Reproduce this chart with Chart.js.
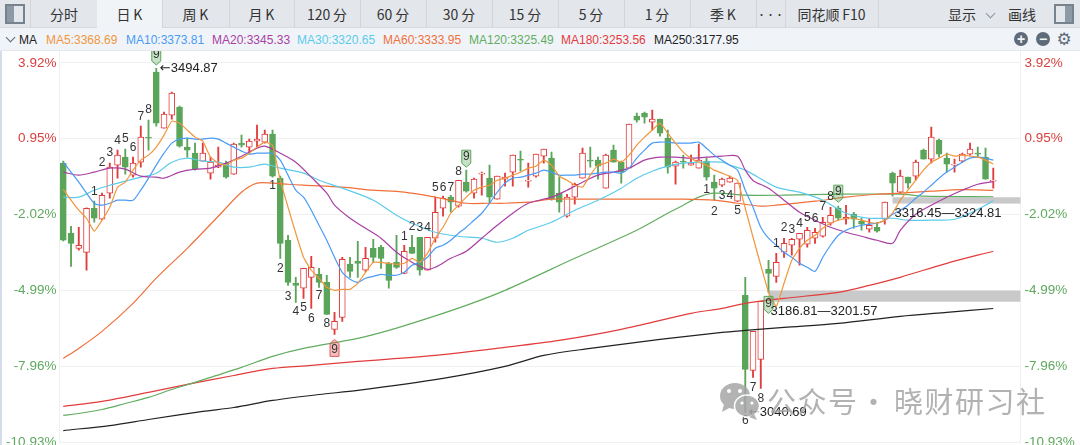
<!DOCTYPE html>
<html lang="zh"><head><meta charset="utf-8">
<script src="https://cdn.jsdelivr.net/npm/chart.js@4/dist/chart.umd.min.js"></script>
<style>
html,body{margin:0;padding:0;background:#fff;width:1080px;height:445px;overflow:hidden;font-family:"Liberation Sans","Noto Sans CJK SC",sans-serif}
#tabs{position:absolute;left:0;top:0;width:1080px;height:28px;background:#e3e7eb;border-bottom:1px solid #d5dade;box-sizing:border-box}
.tab{position:absolute;top:0;height:28px;line-height:29px;text-align:center;font-size:14px;color:#333;border-right:1px solid #d2d6da;box-sizing:border-box;font-family:"Noto Sans CJK SC","Liberation Sans",sans-serif}
.tab.on{background:#f1f4f7}
.plain{position:absolute;top:0;line-height:29px;font-size:14px;color:#333;font-family:"Noto Sans CJK SC","Liberation Sans",sans-serif}
#row{position:absolute;left:0;top:28px;width:1080px;height:23px;background:#f0f4f9;border-bottom:1px solid #e6e8ec;box-sizing:border-box}
.ma{position:absolute;top:0;line-height:24px;font-size:12px;white-space:nowrap}
.ic{position:absolute;box-sizing:border-box;border:2px solid #76838f;background:linear-gradient(90deg,#8d99a5 0 45%,#e3e7eb 45%)}
canvas{position:absolute;left:0;top:51px}
#edge{position:absolute;left:0;top:51px;width:2px;height:394px;background:#d5dde8}
.wm{position:absolute;top:381px;font-size:29px;line-height:38px;color:rgba(165,165,165,.85);font-family:"Noto Sans CJK SC",sans-serif;white-space:nowrap;letter-spacing:1.5px}
svg{position:absolute}
</style></head><body>
<div id="tabs"></div><div id="row"></div>
<div id="edge"></div>
<canvas id="c" width="1080" height="394"></canvas>
<svg style="left:714px;top:380px" width="50" height="42" viewBox="0 0 50 42">
<g opacity=".85"><ellipse cx="21" cy="16" rx="15" ry="13" fill="#a6a6a6"/><path d="M10 24l-2 8 9-5z" fill="#a6a6a6"/>
<circle cx="15" cy="11" r="2" fill="#fff"/><circle cx="26" cy="11" r="2" fill="#fff"/>
<ellipse cx="33" cy="26" rx="12.5" ry="11" fill="#a6a6a6" stroke="#fff" stroke-width="1.5"/><path d="M40 34l3 6-8-3z" fill="#a6a6a6"/>
<circle cx="28" cy="23" r="1.6" fill="#fff"/><circle cx="38" cy="23" r="1.6" fill="#fff"/></g></svg>
<div class="wm" style="left:767px">公众号</div><div class="wm" style="left:859px">·</div><div class="wm" style="left:894px">晓财研习社</div>
<script>
const tabNames=["分时","日\u2009K","周\u2009K","月\u2009K","120\u2009分","60\u2009分","30\u2009分","15\u2009分","5\u2009分","1\u2009分","季\u2009K","•••","同花顺\u2009F10"];
const tabEdges=[31,97,162,229,294,360,426,492,558,624,690,756,785,878];
const maNames=["MA5:3368.69","MA10:3373.81","MA20:3345.33","MA30:3320.65","MA60:3333.95","MA120:3325.49","MA180:3253.56","MA250:3177.95"];
const maColors=["#f0963c","#4a9bf5","#a93fa3","#5ccbea","#f0703a","#62ad62","#e23c3c","#222222"];
const tickPct=[-10.93,-7.96,-4.99,-2.02,0.95,3.92];
const basePrice=3370;

const open=[3370,3277.3,3257.4,3252.1,3310.3,3295.8,3330.2,3367.2,3377.7,3354,
3371.1,3404,3490,3416,3433.3,3443.8,3391,3383,3372.5,3356.6,
3364.5,3369.8,3355.3,3396.3,3391,3398.9,3397.6,3408.2,3350,3268,
3211.2,3204.6,3219.1,3223,3212.5,3150.4,3166.2,3236.3,3240.3,3228.4,
3257.4,3258.8,3237.6,3238.9,3224.4,3258.8,3272,3228.4,3270.7,3310.3,
3324.9,3313,3344.7,3330.2,3355.3,3350,3322.2,3348.7,3358,3375.1,
3346,3352.6,3379,3376.4,3330.2,3299.7,3324.9,3350,3373.8,3373.8,
3336.8,3387,3371.1,3363.2,3432,3435.9,3424,3428,3402.9,3365.8,
3372.5,3367.2,3363.2,3372.5,3344.7,3340.7,3344.7,3319.6,3195.3,3096.2,
3110.7,3229.7,3220.4,3252.2,3261.4,3269.3,3262.7,3270.7,3273.3,3290.5,
3310.3,3295.8,3302.4,3293.1,3282.6,3285.2,3295.8,3356.6,3331.5,3351.3,
3352.6,3387,3375.1,3400.2,3376.4,3367.2,3372.5,3381.7,3383,3377.7,3346];
const close=[3268,3264,3261.4,3310.3,3297.1,3327.5,3364.5,3380.4,3364.5,3369.8,
3404.2,3402.9,3422.7,3434.6,3462.4,3392.3,3387,3361.9,3383,3371.1,
3367.2,3351.3,3394.9,3393.6,3398.9,3401.5,3408.2,3352.6,3264,3212.5,
3208.5,3231,3232.3,3212.5,3170.2,3161,3242.9,3227,3237.6,3244.2,
3245.5,3244.2,3215.1,3232.3,3253.5,3250.8,3228.4,3272,3305,3323.5,
3318.3,3347.3,3332.8,3348.7,3356.6,3324.9,3352.6,3351.3,3380.4,3373.8,
3347.3,3381.7,3388.3,3322.2,3318.3,3324.9,3342,3383,3372.5,3365.8,
3380.4,3371.1,3358,3421.4,3426.7,3430.6,3428,3409.5,3364.5,3371.1,
3371.1,3369.8,3373.8,3351.3,3336.8,3348.7,3350,3343.4,3097.5,3147.7,
3187.4,3224.4,3238.9,3264,3269.3,3277.3,3281.2,3278.6,3291.8,3301,
3297.1,3298.4,3295.8,3289.2,3287.8,3280,3318.3,3343.4,3352.6,3343.4,
3371.1,3375.1,3404.2,3381.7,3368.5,3368.5,3381.7,3388.3,3381.7,3348.7,3347.3];
const high=[3372.5,3286.5,3285.2,3311,3319.6,3330.2,3369.8,3387,3388.3,3377.7,
3418.7,3426.7,3494.87,3437.2,3463.7,3445.2,3402.9,3396.3,3396.3,3377.7,
3391,3372.5,3396.3,3406.8,3401.5,3420,3413.4,3413.4,3352.6,3274.6,
3219.1,3231,3246.9,3231,3221.8,3172.8,3245.5,3245.5,3266.7,3258.8,
3269.3,3261.4,3238.9,3274.6,3261.4,3274.6,3272,3272,3324.9,3326.2,
3327.5,3347.3,3360.6,3350,3358,3367.2,3352.6,3356.6,3380.4,3385.7,
3369.8,3381.7,3388.3,3384.4,3351.3,3328.8,3343.4,3389.6,3391,3377.7,
3381.7,3393.6,3372.5,3421.4,3435.9,3437.2,3439.9,3428,3413.4,3372.5,
3380.4,3380.4,3394.9,3376.4,3354,3350,3352.6,3343.4,3219.1,3147.7,
3187.4,3241.6,3250.8,3270.7,3270.7,3277.3,3285.2,3283.9,3298.4,3311.6,
3313,3314.3,3305,3297.1,3297.1,3291.8,3318.3,3358,3360.6,3351.3,
3373.8,3388.3,3417.4,3401.5,3383,3375.1,3383,3396.3,3391,3389.6,3363.2];
const low=[3267,3233.6,3254.8,3228.4,3291.8,3295,3323.5,3350,3355.3,3351.3,
3364.5,3387,3418.7,3416,3428,3391,3377.7,3360.6,3372,3348.7,
3364,3350,3355,3391,3383,3391,3396.3,3351.3,3244.2,3208.5,
3186,3191.3,3178.1,3205.9,3170,3143.8,3161,3219.1,3219.1,3227,
3238.9,3231,3204.6,3231,3224,3250.8,3221.8,3228.4,3265.4,3299.7,
3305,3311.6,3331.5,3323.5,3327.5,3316.9,3322.2,3339.4,3339.4,3359.2,
3338,3351.3,3369.8,3320.9,3305,3298.4,3315.6,3350,3364.5,3348.7,
3336.8,3371.1,3343.4,3363.2,3424,3422.7,3413.4,3405.5,3356.6,3342,
3363.2,3367.2,3363.2,3347.3,3320.9,3339,3344.7,3319,3040.69,3086.9,
3072.4,3199.3,3212.5,3245.5,3248.2,3235,3258.8,3264,3272,3287.8,
3294.5,3289.2,3283.9,3281.2,3278.6,3278.6,3289.2,3326.2,3330.2,3336.8,
3347.3,3375,3369.8,3377.7,3358,3358,3371.1,3380.4,3377.7,3348.7,3336.8];

const ma5=[3335.4,3320.9,3307.7,3297.1,3280,3294.5,3311.6,3338,3344.7,3360.6,
3373.8,3380.4,3391,3406.8,3425.3,3422.7,3413.4,3404.2,3398.9,3377.7,
3369.8,3367.2,3373.8,3376.4,3383,3391,3397.6,3393.6,3347.3,3311.6,
3277.3,3245.5,3228.4,3217.8,3205.9,3201.9,3203.2,3203.2,3211.2,3225.7,
3238.9,3238.9,3237.6,3236.3,3237.6,3244.2,3238.9,3250.8,3270.7,3285.2,
3303.7,3314.3,3324.9,3334.1,3338.1,3340.7,3347.3,3350,3354,3357.9,
3363.2,3365.8,3373.8,3367.2,3352.6,3347.3,3340.7,3338.1,3354,3367.2,
3369.8,3375.1,3371.1,3380.4,3393.6,3404.2,3413.4,3422.7,3409.5,3396.3,
3384.4,3376.4,3371.1,3367.2,3360.6,3356.6,3352.6,3347.3,3310.3,3272,
3235,3199.3,3180.8,3211.2,3241.6,3257.4,3268,3274.6,3283.9,3290.5,
3294.5,3297.1,3297.1,3294.5,3291.8,3290.5,3294.5,3303.7,3320.9,3334.1,
3347.3,3360.6,3371.1,3376.4,3381.7,3379.1,3380.4,3379.1,3377.7,3373.8,3368.69];
const ma10=[3371.1,3358,3344.7,3330.2,3316.9,3314.3,3316.9,3320.9,3320.9,3320.9,
3334.1,3350,3367.2,3383,3396.3,3401.5,3402.9,3401.5,3401.5,3402.9,
3401.5,3396.3,3391,3385.7,3381.7,3383,3383,3383,3373.8,3354,
3334.1,3324.9,3307.7,3287.8,3268,3245.5,3225.7,3216.5,3212.5,3217.8,
3220.4,3223.1,3221.8,3221.8,3225.7,3235,3238.9,3245.5,3257.4,3261.4,
3268,3277.3,3285.2,3294.5,3303.7,3316.9,3331.5,3343.4,3350,3351.3,
3354,3356.6,3360.6,3358,3354,3354,3354,3355.3,3355.3,3356.6,
3358,3358,3356.6,3363.2,3376.4,3387,3396.3,3397.6,3397.6,3396.3,
3396.3,3396.3,3397.6,3389.6,3380.4,3373.8,3367.2,3360.6,3334.1,3311.6,
3285.2,3270.7,3261.4,3252.2,3245.5,3237.6,3232.3,3227,3245.5,3261.4,
3274.6,3281.2,3285.2,3287.8,3289.2,3290.5,3294.5,3302.4,3307.7,3314.3,
3323.5,3331.5,3340.7,3350,3358,3364.5,3371.1,3376.4,3377.7,3376.4,3373.81];
const ma20At=[0,2,4,6,8,10,12,13,15,17,19,21,23,25,26,28,30,32,34,35,37,39,41,43,45,47,48,50,52,54,56,58,60,63,65,67,69,71,73,75,77,79,81,83,85,87,88,89,91,93,95,97,99,101,103,105,107,108,110,112,114,116,118,120];
const ma20=[3358,3354,3358,3363.2,3361.9,3352.6,3351.3,3350,3358,3361.9,3363.2,3369.8,3379,3389.6,3392.3,3383,3371.1,3351.3,3330.2,3314.3,3297.1,3283.9,3270.7,3252.2,3238.9,3229.7,3232.3,3244.2,3253.5,3270.7,3287.8,3303.7,3316.9,3324.9,3334.1,3344.7,3354,3358,3363.2,3373.8,3377.7,3377.7,3376.4,3377.7,3379,3379,3360.6,3347,3336.8,3320.9,3305,3294.5,3285.2,3278.6,3273.3,3268,3264,3281.2,3302.4,3314.3,3324.9,3334.1,3342,3345.33];
const ma30At=[0,2,4,6,8,10,12,14,16,18,20,22,24,26,28,31,33,36,40,43,45,48,51,54,56,58,60,63,66,69,72,74,76,78,80,82,85,86,88,92,95,98,101,104,107,109,112,115,117,119,120];
const ma30=[3324.9,3324.9,3334.1,3340.7,3346,3351.3,3356.6,3371.1,3376.4,3372.5,3371.1,3364.5,3364.5,3368.5,3363.2,3356.6,3347.3,3336.8,3320.9,3301.1,3290.5,3278.6,3273.3,3270.7,3265.4,3270.7,3281.2,3291.8,3307.7,3320.9,3336.8,3350,3359.2,3365.8,3369.8,3371.1,3371.1,3367.2,3360.6,3338.1,3331.5,3320.9,3303.7,3297.1,3297.1,3294.5,3294.5,3295.8,3303.7,3314.3,3320.65];
const ma60At=[0,2,5,9,12,16,20,23,25,27,29,31,36,40,44,48,52,55,57,60,63,68,74,80,84,87,90,92,97,101,105,108,112,116,120];
const ma60=[3112,3125.2,3147.7,3184.7,3218,3257.4,3299.7,3331.5,3343.4,3343.4,3342,3340.7,3338.1,3334.1,3331.5,3324.9,3316.9,3316.9,3316.9,3318.3,3322.2,3322.2,3322.2,3322.2,3320.9,3316.9,3313,3314.3,3319.6,3324.9,3328.8,3330.2,3332.8,3334.8,3333.95];
const ma120At=[0,2,5,8,11,14,17,19,23,27,31,38,42,47,52,57,66,74,78,80,82,84,88,93,100,108,111,120];
const ma120=[3036.7,3039.3,3044.6,3052.5,3060.5,3071,3080.3,3087,3100.1,3114.7,3125.2,3138.5,3149,3164.9,3182.1,3201.9,3244.2,3281.2,3303.7,3314.3,3324.9,3330.2,3327.5,3327.5,3328.8,3328.8,3326.2,3325.49];
const ma180At=[0,5,11,16,22,27,32,38,48,57,64,72,81,85,88,93,100,104,108,114,120];
const ma180=[3048.6,3055.2,3067.1,3077.7,3089.5,3098.8,3102.8,3108,3116,3126.6,3135.8,3150.4,3171.5,3178.1,3184.7,3191.3,3199.3,3208.5,3219.1,3237.6,3253.56];
const ma250At=[0,6,11,18,22,27,33,38,49,57,62,68,77,85,88,93,100,108,114,120];
const ma250=[3016.8,3023.4,3031.4,3042,3047.2,3056.5,3064.4,3069.7,3085.6,3101.4,3116,3125.2,3137.1,3146.4,3149,3153,3158.3,3167.5,3172.8,3177.95];

const tdIdx=[4,5,6,7,8,9,10,11,12, 27,28,29,30,31,32,33,34,35, 44,45,46,47,48,49,50,51,52, 83,84,85,86,87,88,89,90,91, 92,93,94,95,96,97,98,99,100];
const tdPrice=[3332.8,3369.8,3383,3398.9,3401.5,3389.6,3430.6,3439.9,3512.6, 3340.7,3231,3194,3174.2,3179.4,3164.9,3195.3,3158.3,3123.9, 3273.3,3286.5,3285.2,3285.2,3338,3338,3338,3359.2,3377.7, 3335.4,3306.4,3327.5,3327.5,3307.7,3030.1,3073.7,3059.1,3184.7, 3264,3285.2,3282.6,3290.5,3298.4,3297.1,3313,3324.9,3331.5];
const tdText=["1","2","3","4","5","6","7","8","9","1","2","3","4","5","6","7","8","9","1","2","3","4","5","6","7","8","9","1","2","3","4","5","6","7","8","9","1","2","3","4","5","6","7","8","9"];
const bandFrom=[91,107];
const bandLow=[3186.81,3316.45];
const bandHigh=[3201.57,3324.81];
const bandText=["3186.81—3201.57","3316.45—3324.81"];
const bandTextY=[3174,3303];
const extremeIdx=[12,88];
const extremeVal=[3494.87,3040.69];
const extremeText=["3494.87","3040.69"];

const UP="#e03c3c",DOWN="#5aa55a",SLOTS=124;

const tabs=document.getElementById("tabs");
tabNames.forEach((n,i)=>{const d=document.createElement("div");d.className="tab"+(i==1?" on":"");d.textContent=n;
 d.style.left=tabEdges[i]+"px";d.style.width=(tabEdges[i+1]-tabEdges[i]+1)+"px";if(n==="•••")d.style.fontSize="9px";tabs.appendChild(d);});
[["显示",948],["画线",1008]].forEach(([t,x])=>{const d=document.createElement("div");d.className="plain";d.textContent=t;d.style.left=x+"px";tabs.appendChild(d);});
const chev=document.createElement("div");chev.className="plain";chev.style.cssText="left:987px;top:10px;width:6px;height:6px;border-right:1px solid #8a96a3;border-bottom:1px solid #8a96a3;transform:rotate(45deg)";tabs.appendChild(chev);
const i1=document.createElement("div");i1.className="ic";i1.style.cssText="left:5px;top:4px;width:20px;height:20px";tabs.appendChild(i1);
const l0=document.createElement("div");l0.style.cssText="position:absolute;left:30px;top:0;height:28px;border-left:1px solid #d2d6da";tabs.appendChild(l0);
const i2=document.createElement("div");i2.className="ic";i2.style.cssText="left:1054px;top:4px;width:20px;height:20px;background:linear-gradient(90deg,#e3e7eb 0 55%,#8d99a5 55%)";tabs.appendChild(i2);

const row=document.getElementById("row");
const maLefts=[46,126,212,297,383,469,561,654];
const mk=document.createElement("div");mk.className="ma";mk.style.cssText="left:19px;color:#222;font-size:12px";mk.textContent="MA";row.appendChild(mk);
const ch2=document.createElement("div");ch2.style.cssText="position:absolute;left:7px;top:6px;width:6px;height:6px;border-right:1.5px solid #5c6876;border-bottom:1.5px solid #5c6876;transform:rotate(45deg)";row.appendChild(ch2);
maNames.forEach((n,i)=>{const d=document.createElement("div");d.className="ma";d.textContent=n;d.style.left=maLefts[i]+"px";d.style.color=maColors[i];row.appendChild(d);});
[[1021,"+"],[1043,"−"]].forEach(([x,t])=>{const d=document.createElement("div");d.textContent=t;d.style.cssText=`position:absolute;left:${x-7}px;top:4px;width:14px;height:14px;border-radius:50%;background:#5f6b78;color:#f0f4f9;font:bold 14px/14px "Liberation Sans";text-align:center`;row.appendChild(d);});
const g=document.createElement("div");g.textContent="⚙";g.style.cssText='position:absolute;left:1056px;top:1px;width:16px;font:17px/20px "DejaVu Sans";color:#5f6b78;text-align:center';row.appendChild(g);

function sparse(at,vals){const a=Array(121).fill(null);at.forEach((i,k)=>a[i]=vals[k]);return a;}
const labels=Array.from({length:SLOTS},(_,i)=>String(i));
const isUp=open.map((o,i)=>close[i]>=o);
const lines=[
 {c:7,d:sparse(ma250At,ma250),t:.3},{c:6,d:sparse(ma180At,ma180),t:.3},{c:5,d:sparse(ma120At,ma120),t:.3},{c:4,d:sparse(ma60At,ma60),t:.3},
 {c:3,d:sparse(ma30At,ma30),t:.3},{c:2,d:sparse(ma20At,ma20),t:.3},{c:1,d:ma10,t:.25},{c:0,d:ma5,t:.12}
];

const overlay={id:"overlay",
 beforeDatasetsDraw(ch){const {ctx,scales:{x,y},chartArea:a}=ch;ctx.save();ctx.fillStyle="#c9c9c9";
  bandFrom.forEach((f,i)=>{const t=y.getPixelForValue(bandHigh[i]),b=y.getPixelForValue(bandLow[i]);ctx.fillRect(x.getPixelForValue(f),t,a.right-x.getPixelForValue(f),b-t);});ctx.restore();},
 afterDatasetsDraw(ch){const {ctx,scales:{x,y}}=ch;ctx.save();ctx.textBaseline="middle";ctx.textAlign="center";
  tdIdx.forEach((ix,i)=>{const px=x.getPixelForValue(ix),py=y.getPixelForValue(tdPrice[i]);
   if(tdText[i]==="9"){const up=isUp[ix];const col=up?"rgba(224,60,60,.35)":"rgba(90,165,90,.35)";const bc=up?"#e06060":"#5aa55a";
    ctx.beginPath();
    if(up){ctx.moveTo(px,py-10);ctx.lineTo(px+4.5,py-6);ctx.lineTo(px+4.5,py+7);ctx.lineTo(px-4.5,py+7);ctx.lineTo(px-4.5,py-6);}
    else{ctx.moveTo(px-4.5,py-7);ctx.lineTo(px+4.5,py-7);ctx.lineTo(px+4.5,py+6);ctx.lineTo(px,py+10);ctx.lineTo(px-4.5,py+6);}
    ctx.closePath();ctx.fillStyle=col;ctx.fill();ctx.strokeStyle=bc;ctx.lineWidth=1;ctx.stroke();}
   ctx.fillStyle="#333";ctx.font='12px "Liberation Sans"';ctx.fillText(tdText[i],px,py);});
  ctx.textAlign="left";ctx.fillStyle="#222";ctx.font='13px "Liberation Sans"';
  bandText.forEach((t,i)=>ctx.fillText(t,x.getPixelForValue(bandFrom[i])+2,y.getPixelForValue(bandTextY[i])));
  extremeText.forEach((t,i)=>{const px=x.getPixelForValue(extremeIdx[i])+3.5,py=y.getPixelForValue(extremeVal[i]);
    ctx.font='13px "DejaVu Sans"';ctx.fillText("←",px,py);
    ctx.font='13px "Liberation Sans"';ctx.fillText(t,px+11,py);});
  ctx.restore();}
};
const tickVals=tickPct.map(p=>basePrice*(1+p/100));
function axis(pos,showGrid){return{type:"linear",position:pos,min:tickVals[0],max:3517.9,
  afterBuildTicks(a){a.ticks=tickVals.map(v=>({value:v}));},
  afterFit(a){a.width=pos==="left"?59.4:59.6;a.paddingTop=0;a.paddingBottom=0;a.paddingLeft=0;a.paddingRight=0;},
  grid:{display:showGrid,color:"#f0f0f0",drawTicks:false,lineWidth:1},
  border:{display:true,color:"#efefef"},
  ticks:{padding:pos==="left"?3:4,autoSkip:false,maxRotation:0,font:{family:"Liberation Sans",size:13.5},
    color:c=>tickPct[c.index]>0?"#d8403f":"#5fa85f",
    callback:(v,i)=>tickPct[i].toFixed(2)+"%"}};}
new Chart(document.getElementById("c"),{type:"bar",
 data:{labels,datasets:[
  {type:"bar",label:"body",order:20,data:open.map((o,i)=>[o,close[i]]),barThickness:6,grouped:false,borderWidth:1,borderSkipped:false,
   borderColor:isUp.map(u=>u?UP:DOWN),backgroundColor:isUp.map(u=>u?"#fff":DOWN),yAxisID:"y"},
  {type:"bar",label:"wick",order:21,data:high.map((h,i)=>[low[i],h]),barThickness:1.2,grouped:false,borderWidth:0,
   backgroundColor:isUp.map(u=>u?UP:DOWN),yAxisID:"y"},
  ...lines.map((l,k)=>({type:"line",label:maNames[l.c],order:10-k,data:l.d,borderColor:maColors[l.c],borderWidth:1.2,pointRadius:0,spanGaps:true,tension:l.t,yAxisID:"y",fill:false}))
 ]},
 plugins:[overlay],
 options:{responsive:false,animation:false,devicePixelRatio:1,
  layout:{padding:{left:0,right:0,top:0,bottom:3}},
  plugins:{legend:{display:false},tooltip:{enabled:false}},
  scales:{x:{type:"category",offset:true,ticks:{display:false},grid:{display:false},border:{display:false},
     afterFit(a){a.height=0;a.paddingTop=0;a.paddingBottom=0;a.paddingLeft=0;a.paddingRight=0;}},
   y:axis("left",true),y2:axis("right",false)}}
});
</script></body></html>
